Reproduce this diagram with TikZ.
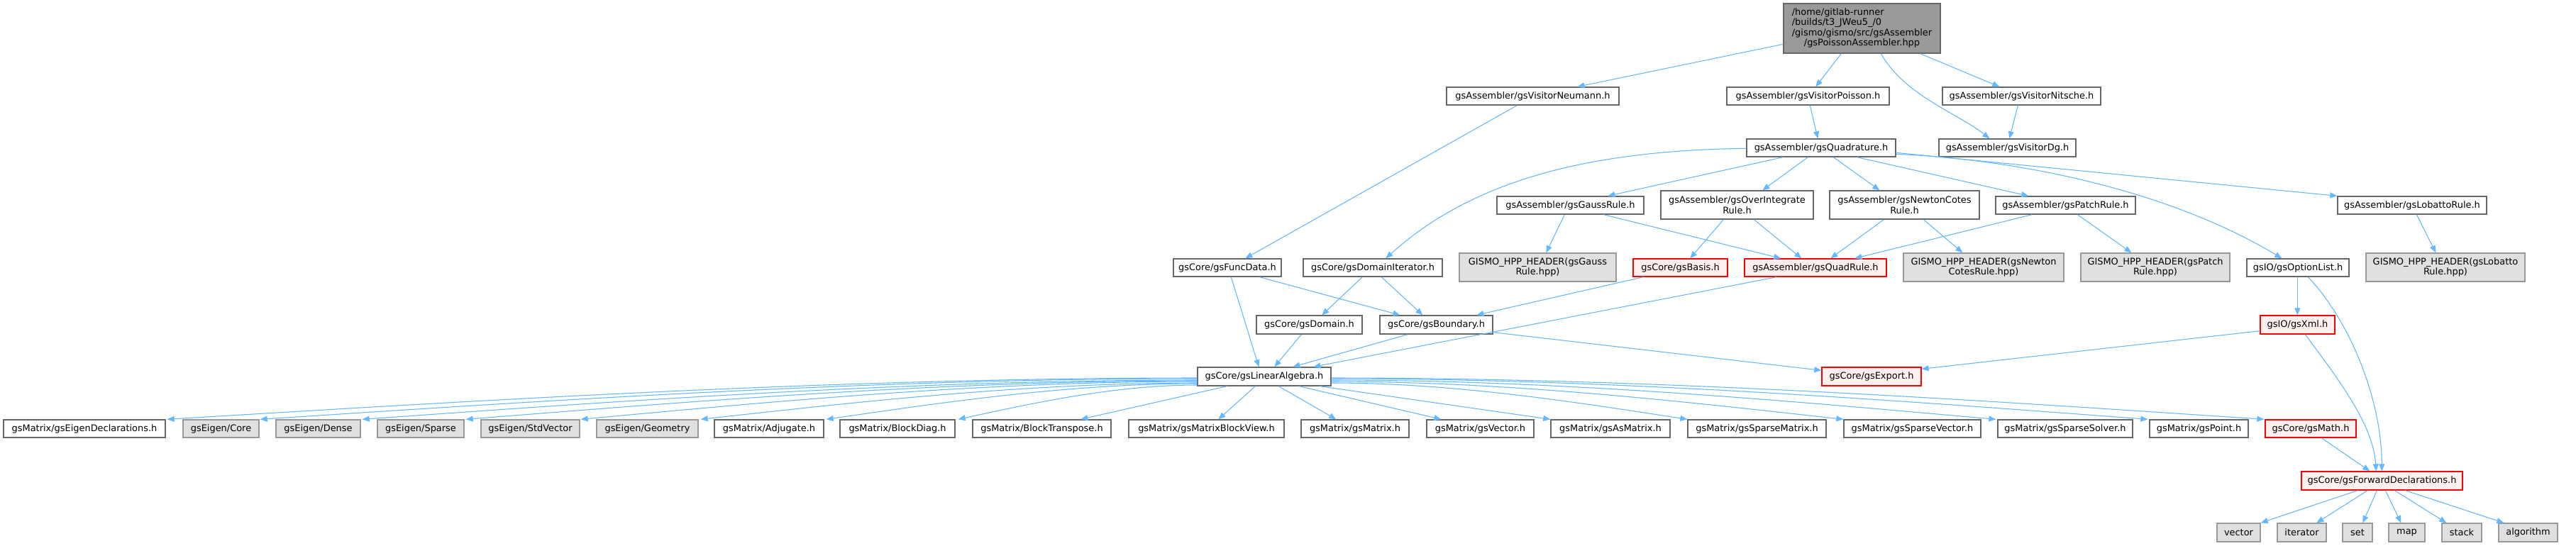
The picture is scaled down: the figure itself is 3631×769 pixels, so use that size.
\documentclass[tikz,border=0pt]{standalone}
\usepackage{fontspec}
\setmainfont{DejaVu Sans}
\usetikzlibrary{arrows.meta,calc}
\definecolor{edgeblue}{HTML}{63B8FF}
\definecolor{bordergrey}{HTML}{666666}
\definecolor{lightborder}{HTML}{999999}
\definecolor{greyfill}{HTML}{E0E0E0}
\definecolor{rootfill}{HTML}{999999}
\definecolor{redfill}{HTML}{FFF0F0}
\definecolor{redborder}{HTML}{FF0000}
\newcommand\nodefont{\fontsize{9.7}{10.8}\selectfont}
\newcommand\nd[7]{\node[#1, minimum width={(#5-#3)*0.75pt}, minimum height={(#6-#4)*0.75pt}] (#2) at ({(#3+#5)/2},{(#4+#6)/2}) {#7};}
\newcommand\fanedge[2]{%
 \coordinate (fS) at #1; \coordinate (fE) at #2;
 \coordinate (fA) at ($(fS)!0.35!(fE)$);
 \coordinate (fB) at ($(fS)!0.7!(fE)$);
 \coordinate (fC) at ($(fS)!0.55!(fE)$);
 \draw[edge] (fS) .. controls (fA |- fS) and (fB |- fC) .. (fE);}
\begin{document}
\begin{tikzpicture}[x=0.75pt,y=-0.75pt,
 base/.style={draw, rectangle, inner sep=0pt, line width=1pt, font=\nodefont, align=center},
 wbox/.style={base, draw=bordergrey, fill=white},
 gbox/.style={base, draw=lightborder, fill=greyfill},
 rbox/.style={base, draw=redborder, fill=redfill},
 rootbox/.style={base, draw=bordergrey, fill=rootfill},
 edge/.style={draw=edgeblue, line width=0.8pt, -{Triangle[length=7.5pt,width=6pt]}}]
\fill[white] (0,0) rectangle (3631,769);
\useasboundingbox (0,0) rectangle (3631,769);
% nodes
\nd{rootbox}{root}{2514}{5}{2735}{75}{\begin{tabular}{@{}l@{}}/home/gitlab-runner\\/builds/t3\_JWeu5\_/0\\/gismo/gismo/src/gsAssembler\\\multicolumn{1}{@{}c@{}}{/gsPoissonAssembler.hpp}\end{tabular}}
\nd{wbox}{nm}{2039}{123}{2282}{148}{gsAssembler/gsVisitorNeumann.h}
\nd{wbox}{ps}{2434}{123}{2663}{148}{gsAssembler/gsVisitorPoisson.h}
\nd{wbox}{ni}{2738}{123}{2961}{148}{gsAssembler/gsVisitorNitsche.h}
\nd{wbox}{qd}{2462}{196}{2672}{221}{gsAssembler/gsQuadrature.h}
\nd{wbox}{dg}{2733}{196}{2926}{221}{gsAssembler/gsVisitorDg.h}
\nd{wbox}{ga}{2110}{277}{2317}{302}{gsAssembler/gsGaussRule.h}
\nd{wbox}{oi}{2341}{269}{2556}{309}{gsAssembler/gsOverIntegrate\\Rule.h}
\nd{wbox}{nc}{2579}{269}{2790}{309}{gsAssembler/gsNewtonCotes\\Rule.h}
\nd{wbox}{pr}{2813}{277}{3010}{302}{gsAssembler/gsPatchRule.h}
\nd{wbox}{lr}{3295}{277}{3505}{302}{gsAssembler/gsLobattoRule.h}
\nd{wbox}{fd}{1654}{365}{1806}{390}{gsCore/gsFuncData.h}
\nd{wbox}{di}{1837}{365}{2033}{390}{gsCore/gsDomainIterator.h}
\nd{gbox}{hg}{2057}{357}{2278}{397}{GISMO\_HPP\_HEADER(gsGauss\\Rule.hpp)}
\nd{rbox}{bs}{2302}{365}{2435}{390}{gsCore/gsBasis.h}
\nd{rbox}{qr}{2459}{365}{2659}{390}{gsAssembler/gsQuadRule.h}
\nd{gbox}{hn}{2683}{357}{2909}{397}{GISMO\_HPP\_HEADER(gsNewton\\CotesRule.hpp)}
\nd{gbox}{hp}{2933}{357}{3143}{397}{GISMO\_HPP\_HEADER(gsPatch\\Rule.hpp)}
\nd{wbox}{ol}{3167}{365}{3311}{390}{gsIO/gsOptionList.h}
\nd{gbox}{hl}{3335}{357}{3559}{397}{GISMO\_HPP\_HEADER(gsLobatto\\Rule.hpp)}
\nd{wbox}{dm}{1771}{445}{1920}{471}{gsCore/gsDomain.h}
\nd{wbox}{bd}{1945}{445}{2104}{471}{gsCore/gsBoundary.h}
\nd{rbox}{xm}{3186}{445}{3291}{471}{gsIO/gsXml.h}
\nd{wbox}{la}{1688}{518}{1876}{544}{gsCore/gsLinearAlgebra.h}
\nd{rbox}{ex}{2568}{518}{2708}{544}{gsCore/gsExport.h}
\nd{wbox}{e1}{5}{592}{233}{617}{gsMatrix/gsEigenDeclarations.h}
\nd{gbox}{e2}{258}{592}{365}{617}{gsEigen/Core}
\nd{gbox}{e3}{389}{592}{508}{617}{gsEigen/Dense}
\nd{gbox}{e4}{532}{592}{654}{617}{gsEigen/Sparse}
\nd{gbox}{e5}{678}{592}{817}{617}{gsEigen/StdVector}
\nd{gbox}{e6}{841}{592}{984}{617}{gsEigen/Geometry}
\nd{wbox}{m1}{1007}{592}{1161}{617}{gsMatrix/Adjugate.h}
\nd{wbox}{m2}{1184}{592}{1346}{617}{gsMatrix/BlockDiag.h}
\nd{wbox}{m3}{1371}{592}{1566}{617}{gsMatrix/BlockTranspose.h}
\nd{wbox}{m4}{1591}{592}{1810}{617}{gsMatrix/gsMatrixBlockView.h}
\nd{wbox}{m5}{1834}{592}{1986}{617}{gsMatrix/gsMatrix.h}
\nd{wbox}{m6}{2011}{592}{2162}{617}{gsMatrix/gsVector.h}
\nd{wbox}{m7}{2186}{592}{2354}{617}{gsMatrix/gsAsMatrix.h}
\nd{wbox}{m8}{2379}{592}{2574}{617}{gsMatrix/gsSparseMatrix.h}
\nd{wbox}{m9}{2599}{592}{2792}{617}{gsMatrix/gsSparseVector.h}
\nd{wbox}{m10}{2816}{592}{3006}{617}{gsMatrix/gsSparseSolver.h}
\nd{wbox}{m11}{3030}{592}{3169}{617}{gsMatrix/gsPoint.h}
\nd{rbox}{mt}{3193}{592}{3321}{617}{gsCore/gsMath.h}
\nd{rbox}{fw}{3244}{665}{3471}{691}{gsCore/gsForwardDeclarations.h}
\nd{gbox}{vc}{3125}{738}{3186}{764}{vector}
\nd{gbox}{it}{3210}{738}{3279}{764}{iterator}
\nd{gbox}{st}{3302}{738}{3344}{764}{set}
\nd{gbox}{mp}{3367}{738}{3418}{764}{map}
\nd{gbox}{sk}{3442}{738}{3498}{764}{stack}
\nd{gbox}{al}{3522}{738}{3605}{764}{algorithm}
% edges
\draw[edge] ($(root.north west)+(0,58)$) -- ($(nm.north west)+(185,0)$);
\draw[edge] ($(root.south west)+(82,0)$) -- ($(ps.north west)+(126,0)$);
\draw[edge] ($(root.south west)+(138,0)$) .. controls (2685,135) and (2760,160) .. ($(dg.north west)+(72,0)$);
\draw[edge] ($(root.south east)+(-29,0)$) -- ($(ni.north west)+(81,0)$);
\draw[edge] ($(ni.south west)+(107,0)$) -- ($(dg.north west)+(100,0)$);
\draw[edge] ($(ps.south west)+(118,0)$) -- ($(qd.north west)+(101,0)$);
\draw[edge] ($(nm.south west)+(100,0)$) -- ($(fd.north west)+(102,0)$);
\draw[edge] ($(qd.north west)+(0,14)$) .. controls (2250,212) and (2080,250) .. ($(di.north west)+(117,0)$);
\draw[edge] ($(qd.south west)+(52,0)$) -- ($(ga.north west)+(157,0)$);
\draw[edge] ($(qd.south west)+(87,0)$) -- ($(oi.north west)+(144,0)$);
\draw[edge] ($(qd.south west)+(123,0)$) -- ($(nc.north west)+(71,0)$);
\draw[edge] ($(qd.south west)+(156,0)$) -- ($(pr.north west)+(47,0)$);
\draw[edge] ($(qd.north east)+(0,22)$) .. controls (2850,225) and (3060,270) .. ($(ol.north west)+(50,0)$);
\draw[edge] ($(qd.north east)+(0,20)$) -- (lr.north west);
\draw[edge] ($(ga.south west)+(96,0)$) -- ($(hg.north west)+(123,0)$);
\draw[edge] ($(ga.south west)+(151,0)$) -- ($(qr.north west)+(52,0)$);
\draw[edge] ($(oi.south west)+(89,0)$) -- ($(bs.north west)+(81,0)$);
\draw[edge] ($(oi.south west)+(132,0)$) -- ($(qr.north west)+(81,0)$);
\draw[edge] ($(nc.south west)+(77,0)$) -- ($(qr.north west)+(122,0)$);
\draw[edge] ($(nc.south west)+(133,0)$) -- ($(hn.north west)+(84,0)$);
\draw[edge] ($(pr.south west)+(52,0)$) -- ($(qr.north west)+(156,0)$);
\draw[edge] ($(pr.south west)+(116,0)$) -- ($(hp.north west)+(72,0)$);
\draw[edge] ($(lr.south west)+(112,0)$) -- ($(hl.north west)+(99,0)$);
\draw[edge] ($(fd.south west)+(82,0)$) -- ($(la.north west)+(87,0)$);
\draw[edge] ($(fd.south west)+(122,0)$) -- ($(bd.north west)+(29,0)$);
\draw[edge] ($(di.south west)+(84,0)$) -- ($(dm.north west)+(93,0)$);
\draw[edge] ($(di.south west)+(111,0)$) -- ($(bd.north west)+(61,0)$);
\draw[edge] ($(bs.south west)+(15,0)$) -- ($(bd.north west)+(137,0)$);
\draw[edge] ($(qr.south west)+(46,0)$) -- ($(la.north west)+(164,0)$);
\draw[edge] ($(dm.south west)+(64,0)$) -- ($(la.north west)+(109,0)$);
\draw[edge] ($(bd.south west)+(40,0)$) -- ($(la.north west)+(135,0)$);
\draw[edge] ($(bd.south east)+(0,-3)$) -- ($(ex.north west)+(0,5)$);
\draw[edge] ($(ol.south west)+(72,0)$) -- ($(xm.north west)+(53,0)$);
\draw[edge] ($(ol.south west)+(87,0)$) .. controls (3310,450) and (3357,560) .. ($(fw.north west)+(114,0)$);
\draw[edge] ($(xm.south west)+(0,-5)$) -- ($(ex.north east)+(0,3)$);
\draw[edge] ($(xm.south west)+(64,0)$) .. controls (3300,540) and (3345,600) .. ($(fw.north west)+(106,0)$);
\draw[edge] ($(mt.south west)+(80,0)$) -- ($(fw.north west)+(97,0)$);
\draw[edge] ($(fw.south west)+(80,0)$) -- (vc.north east);
\draw[edge] ($(fw.south west)+(94,0)$) -- ($(it.north west)+(56,0)$);
\draw[edge] ($(fw.south west)+(107,0)$) -- ($(st.north west)+(29,0)$);
\draw[edge] ($(fw.south west)+(119,0)$) -- ($(mp.north west)+(18,0)$);
\draw[edge] ($(fw.south west)+(132,0)$) -- ($(sk.north west)+(7,0)$);
\draw[edge] ($(fw.south west)+(147,0)$) -- ($(al.north west)+(8,0)$);
% gsLinearAlgebra fan
\fanedge{($(la.west)+(0,2)$)}{($(e1.north east)+(2,0)$)}
\fanedge{($(la.west)+(0,3)$)}{($(e2.north east)+(1,0)$)}
\fanedge{($(la.west)+(0,5)$)}{($(e3.north east)+(2,0)$)}
\fanedge{($(la.west)+(0,6)$)}{($(e4.north east)+(2,0)$)}
\fanedge{($(la.west)+(0,7)$)}{($(e5.north east)+(1,0)$)}
\fanedge{($(la.west)+(0,9)$)}{($(e6.north east)+(3,0)$)}
\fanedge{($(la.west)+(0,10)$)}{($(m1.north east)+(3,0)$)}
\fanedge{($(la.west)+(0,12)$)}{($(m2.north east)+(4,0)$)}
\draw[edge] ($(la.south west)+(42,0)$) -- ($(m3.north west)+(153,0)$);
\draw[edge] ($(la.south west)+(82,0)$) -- ($(m4.north west)+(127,0)$);
\draw[edge] ($(la.south west)+(115,0)$) -- ($(m5.north west)+(50,0)$);
\draw[edge] ($(la.south west)+(144,0)$) -- ($(m6.north west)+(21,0)$);
\draw[edge] ($(la.south west)+(173,0)$) -- (m7.north west);
\fanedge{($(la.east)+(0,9)$)}{(m8.north west)}
\fanedge{($(la.east)+(0,7)$)}{(m9.north west)}
\fanedge{($(la.east)+(0,5)$)}{($(m10.north west)+(-2,0)$)}
\fanedge{($(la.east)+(0,3)$)}{($(m11.north west)+(-2,0)$)}
\fanedge{($(la.east)+(0,2)$)}{($(mt.north west)+(-1,0)$)}
\end{tikzpicture}
\end{document}
